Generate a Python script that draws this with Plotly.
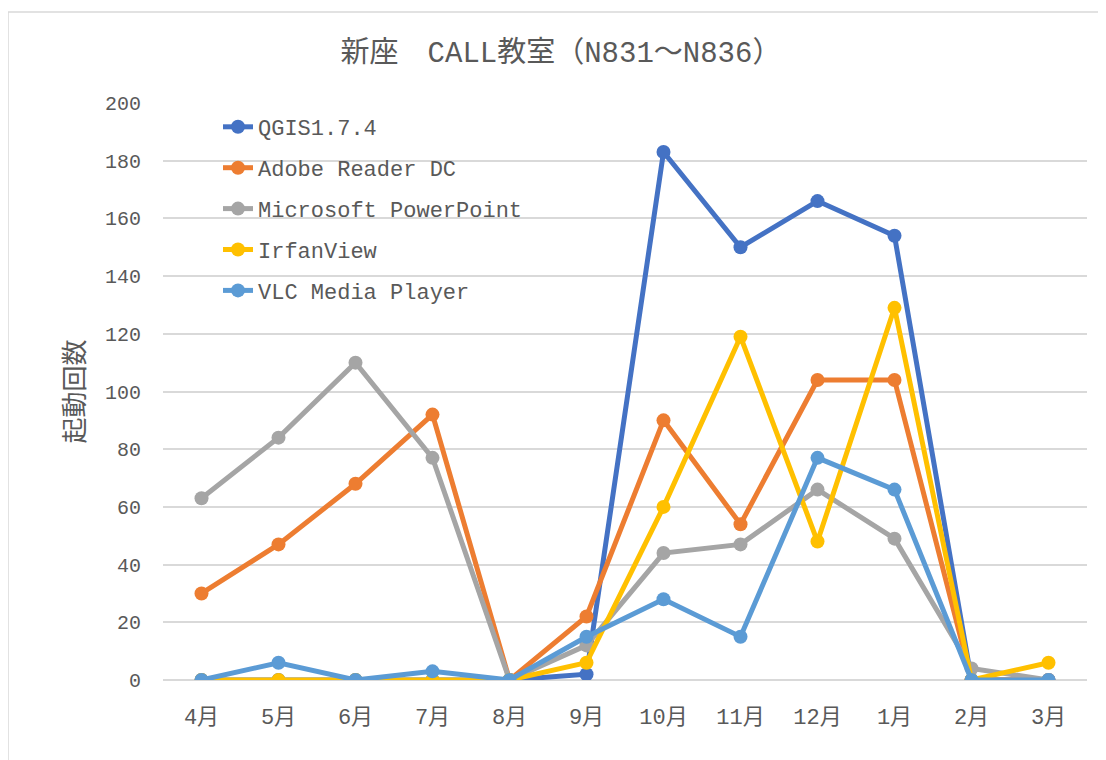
import plotly.graph_objects as go

months = ["4月", "5月", "6月", "7月", "8月", "9月", "10月", "11月", "12月", "1月", "2月", "3月"]
qgis = [0, 0, 0, 0, 0, 2, 183, 150, 166, 154, 0, 0]
adobe = [30, 47, 68, 92, 0, 22, 90, 54, 104, 104, 0, 0]
powerpoint = [63, 84, 110, 77, 0, 12, 44, 47, 66, 49, 4, 0]
irfan = [0, 0, 0, 0, 0, 6, 60, 119, 48, 129, 0, 6]
vlc = [0, 6, 0, 3, 0, 15, 28, 15, 77, 66, 0, 0]

series = [
    ("QGIS1.7.4", qgis, "#4472C4"),
    ("Adobe Reader DC", adobe, "#ED7D31"),
    ("Microsoft PowerPoint", powerpoint, "#A5A5A5"),
    ("IrfanView", irfan, "#FFC000"),
    ("VLC Media Player", vlc, "#5B9BD5"),
]

FONT = "Liberation Mono, Noto Sans CJK JP, monospace"
TXT = "#595959"

fig = go.Figure()
for i, (name, vals, col) in enumerate(series):
    fig.add_trace(go.Scatter(
        x=months, y=vals, name=name, mode="lines+markers",
        line=dict(color=col, width=5),
        marker=dict(color=col, size=14),
        legendgroup=f"g{i}",
    ))

# page offset (body margin) of 8px
OFF = 8
W, H = 1106, 760
L = 163 - OFF
T = 103 - OFF
R = W - (1087 - OFF)
B = H - (680 - OFF)
pw = W - L - R
ph = H - T - B

def px_x(x):
    return (x - OFF - L) / pw

def px_y(y):
    return (H - B - (y - OFF)) / ph

fig.update_layout(
    width=W, height=H,
    margin=dict(l=L, r=R, t=T, b=B),
    paper_bgcolor="white", plot_bgcolor="white",
    font=dict(family=FONT, color=TXT),
    title=dict(text="新座　CALL教室（N831～N836）", x=0.5, xref="container",
               y=1 - (52 - OFF) / H, yref="container", xanchor="center", yanchor="middle",
               font=dict(size=29, color=TXT, family=FONT)),
    legend=dict(x=px_x(218), y=px_y(106), xanchor="left", yanchor="top",
                font=dict(size=22, color=TXT, family=FONT),
                bgcolor="rgba(0,0,0,0)", traceorder="grouped", tracegroupgap=9.3),
    showlegend=True,
)
fig.update_xaxes(
    type="category", range=[-0.5, 11.5], showgrid=False, zeroline=False,
    showline=False, ticks="", tickfont=dict(size=22, color=TXT, family=FONT),
    ticklabelstandoff=21,
)
fig.update_yaxes(
    range=[0, 200], dtick=20, showgrid=True, gridcolor="#D9D9D9", gridwidth=1.5,
    zeroline=True, zerolinecolor="#D9D9D9", zerolinewidth=1.5, showline=False,
    tickfont=dict(size=20, color=TXT, family=FONT), ticklabelstandoff=21,
    title=dict(text="起動回数", font=dict(size=26, color=TXT, family=FONT), standoff=12),
)
fig.add_shape(type="rect", xref="paper", yref="paper",
              x0=px_x(8), x1=px_x(1120), y0=px_y(780), y1=px_y(12),
              line=dict(color="#D9D9D9", width=1.5), fillcolor="rgba(0,0,0,0)", layer="below")

fig.write_html("out.html")
